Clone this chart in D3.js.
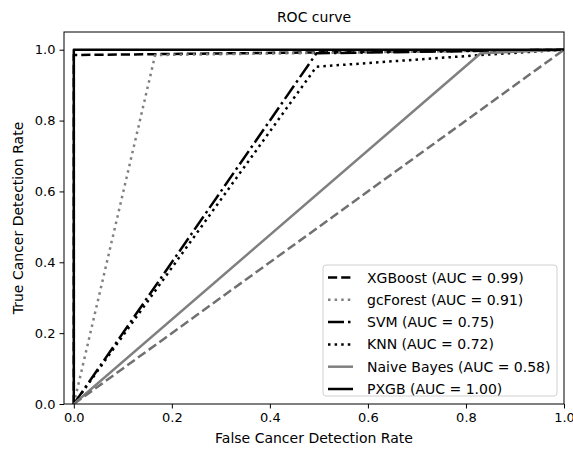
<!DOCTYPE html>
<html>
<head>
<meta charset="utf-8">
<script src="https://cdn.jsdelivr.net/npm/d3@7"></script>
<style>
  body { margin: 0; background: #fff; }
  text { font-family: "DejaVu Sans", sans-serif; fill: #000; }
</style>
</head>
<body>
<div id="vis"></div>
<script>
// ROC points
const names = ['XGBoost', 'gcForest', 'SVM', 'KNN', 'Naive Bayes', 'PXGB'];
const aucs = ['0.99', '0.91', '0.75', '0.72', '0.58', '1.00'];
const fprs = [
  [0, 0, 1],
  [0, 0.166, 1],
  [0, 0.495, 1],
  [0, 0.495, 0.83, 1],
  [0, 0.83, 1],
  [0, 0, 1]
];
const tprs = [
  [0, 0.985, 1],
  [0, 0.985, 1],
  [0, 0.99, 1],
  [0, 0.952, 0.985, 1],
  [0, 0.99, 1],
  [0, 1, 1]
];
const chanceLine = [0, 1];
const xTicks = [0, 0.2, 0.4, 0.6, 0.8, 1.0];
const yTicks = [0, 0.2, 0.4, 0.6, 0.8, 1.0];

// line styles per series
const styles = [
  {color: '#000', width: 2.5, dash: '9.2,4'},
  {color: '#808080', width: 2.5, dash: '2.5,4.1'},
  {color: '#000', width: 2.5, dash: '16,4,2.5,4'},
  {color: '#000', width: 2.5, dash: '2.5,4.1'},
  {color: '#808080', width: 2.5, dash: null},
  {color: '#000', width: 2.5, dash: null}
];

const W = 573, H = 450;
const plot = {left: 64, right: 564, top: 32, bottom: 404};

const svg = d3.select('#vis')
    .append('svg')
    .attr('width', W)
    .attr('height', H);

const xScale = d3.scaleLinear().domain([-0.02, 1.0]).range([plot.left, plot.right]);
const yScale = d3.scaleLinear().domain([0, 1.05]).range([plot.bottom, plot.top]);

svg.append('clipPath').attr('id', 'clip')
    .append('rect')
    .attr('x', plot.left).attr('y', plot.top)
    .attr('width', plot.right - plot.left)
    .attr('height', plot.bottom - plot.top);

const line = d3.line()
    .x(d => xScale(d[0]))
    .y(d => yScale(d[1]));

const lines = svg.append('g').attr('clip-path', 'url(#clip)');

names.forEach((name, i) => {
  const pts = fprs[i].map((f, j) => [f, tprs[i][j]]);
  lines.append('path')
      .attr('d', line(pts))
      .attr('fill', 'none')
      .attr('stroke', styles[i].color)
      .attr('stroke-width', styles[i].width)
      .attr('stroke-dasharray', styles[i].dash)
      .attr('stroke-linejoin', 'round');
});

// chance diagonal
lines.append('path')
    .attr('d', line(chanceLine.map(v => [v, v])))
    .attr('fill', 'none')
    .attr('stroke', '#707070')
    .attr('stroke-width', 2.5)
    .attr('stroke-dasharray', '9.2,4');

// axes
const xAxis = d3.axisBottom(xScale).tickValues(xTicks).tickFormat(d3.format('.1f'))
    .tickSize(4.5).tickPadding(4);
const yAxis = d3.axisLeft(yScale).tickValues(yTicks).tickFormat(d3.format('.1f'))
    .tickSize(4.5).tickPadding(4);

svg.append('g')
    .attr('transform', `translate(0,${plot.bottom})`)
    .call(xAxis)
    .call(g => g.select('.domain').remove());

svg.append('g')
    .attr('transform', `translate(${plot.left},0)`)
    .call(yAxis)
    .call(g => g.select('.domain').remove());

svg.selectAll('.tick text')
    .style('font-family', '"DejaVu Sans", sans-serif')
    .style('font-size', '13px')
    .attr('fill', '#000');
svg.selectAll('.tick line').attr('stroke', '#000').attr('stroke-width', 1);

// frame
svg.append('rect')
    .attr('x', plot.left).attr('y', plot.top)
    .attr('width', plot.right - plot.left)
    .attr('height', plot.bottom - plot.top)
    .attr('fill', 'none')
    .attr('stroke', '#000')
    .attr('stroke-width', 1);

// title and labels
svg.append('text')
    .attr('x', (plot.left + plot.right) / 2)
    .attr('y', 22)
    .style('text-anchor', 'middle')
    .style('font-size', '14px')
    .text('ROC curve');

svg.append('text')
    .attr('x', (plot.left + plot.right) / 2)
    .attr('y', 443)
    .style('text-anchor', 'middle')
    .style('font-size', '14px')
    .text('False Cancer Detection Rate');

svg.append('text')
    .attr('transform', 'rotate(-90)')
    .attr('x', -(plot.top + plot.bottom) / 2)
    .attr('y', 23)
    .style('text-anchor', 'middle')
    .style('font-size', '14px')
    .text('True Cancer Detection Rate');

// legend
const legend = svg.append('g');
legend.append('rect')
    .attr('x', 323).attr('y', 265)
    .attr('width', 234).attr('height', 131)
    .attr('rx', 3)
    .attr('fill', 'rgba(255,255,255,0.8)')
    .attr('stroke', '#d0d0d0')
    .attr('stroke-width', 1);

names.forEach((name, i) => {
  const yy = 277.5 + i * 22.3;
  legend.append('line')
      .attr('x1', 328).attr('x2', 353)
      .attr('y1', yy).attr('y2', yy)
      .attr('stroke', styles[i].color)
      .attr('stroke-width', styles[i].width)
      .attr('stroke-dasharray', styles[i].dash);
  legend.append('text')
      .attr('x', 367)
      .attr('y', yy)
      .attr('dy', '0.36em')
      .style('font-size', '14px')
      .text(`${name} (AUC = ${aucs[i]})`);
});
</script>
</body>
</html>
